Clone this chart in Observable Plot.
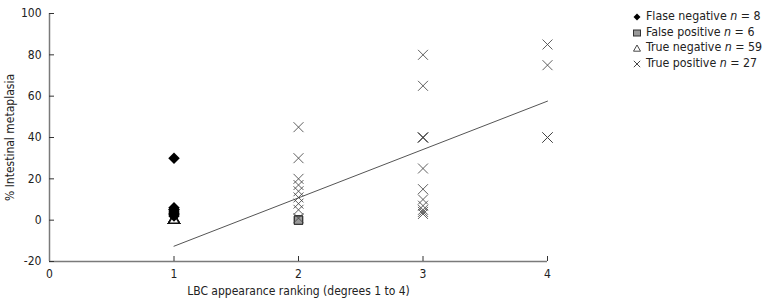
<!DOCTYPE html>
<html>
<head>
<meta charset="utf-8">
<script src="https://cdn.jsdelivr.net/npm/d3@7"></script>
<script src="https://cdn.jsdelivr.net/npm/@observablehq/plot@0.6"></script>
<style>
  body { margin: 0; background: #fff; }
  #wrap { position: relative; width: 768px; height: 299px; font-family: "DejaVu Sans Condensed", "DejaVu Sans", sans-serif; }
  #legend { position: absolute; left: 633px; top: 9px; font-size: 12.3px; color: #222; line-height: 15.7px; }
  #legend .row { display: flex; align-items: center; white-space: nowrap; }
  #legend svg { margin-right: 5px; }
</style>
</head>
<body>
<div id="wrap"></div>
<script>
// Data
const fnX = [1, 1, 1, 1, 1, 1, 1, 1];
const fnY = [30, 6, 5, 5, 4, 3, 3, 2];
const fpX = [2, 2, 2, 2, 2, 2];
const fpY = [0, 0, 0, 0, 0, 0];
const tnX = [1, 1, 1, 1, 1, 1, 1, 1, 1, 1];
const tnY = [0, 0, 0, 0, 0, 0, 0, 0, 0, 0];
const tpX = [2, 2, 2, 2, 2, 2, 2, 2, 2, 3, 3, 3, 3, 3, 3, 3, 3, 3, 3, 3, 3, 4, 4, 4, 4, 4];
const tpY = [45, 30, 20, 17, 14, 11, 8, 5, 1, 80, 65, 40, 40, 40, 25, 15, 10, 7, 4, 3, 5, 85, 75, 40, 40, 40];
const lineX = [1, 4];
const lineY = [-12.6, 57.6];
const xTicks = [0, 1, 2, 3, 4];
const yTicks = [-20, 0, 20, 40, 60, 80, 100];
const legendLabels = ["Flase negative", "False positive", "True negative", "True positive"];
const legendN = [8, 6, 59, 27];

const pts = (xs, ys) => xs.map((x, i) => ({x, y: ys[i]}));

const axisColor = "#7a7a7a";
const font = "'DejaVu Sans Condensed', 'DejaVu Sans', sans-serif";

const chart = Plot.plot({
  width: 768,
  height: 299,
  marginLeft: 49,
  marginRight: 221,
  marginTop: 13,
  marginBottom: 38,
  style: {fontFamily: font, fontSize: "11.5px", color: "#222", background: "white"},
  x: {domain: [0, 4], ticks: xTicks},
  y: {domain: [-20, 100], ticks: yTicks},
  marks: [
    Plot.ruleX([0], {stroke: axisColor, strokeWidth: 1.5}),
    Plot.ruleY([-20], {stroke: axisColor, strokeWidth: 1.5}),
    // y ticks (inward) and labels
    Plot.axisY({ticks: yTicks, tickSize: -5, tickFormat: () => "", stroke: "#333", label: null}),
    Plot.axisY({ticks: yTicks, tickSize: 0, tickPadding: 8, tickFormat: d => d, label: "% Intestinal metaplasia", labelAnchor: "center", labelArrow: "none", labelOffset: 44, fill: "#222", fontSize: 12}),
    // x ticks (inward) and labels
    Plot.axisX({ticks: xTicks.filter(d => d > 0), tickSize: -5, tickFormat: () => "", stroke: "#333", label: null}),
    Plot.axisX({ticks: xTicks, tickSize: 0, tickPadding: 8, tickFormat: d => d, label: "LBC appearance ranking (degrees 1 to 4)", labelAnchor: "center", labelArrow: "none", labelOffset: 33, fill: "#222", fontSize: 12}),
    Plot.line(pts(lineX, lineY), {x: "x", y: "y", stroke: "#555", strokeWidth: 1}),
    Plot.dot(pts(tnX, tnY), {x: "x", y: "y", symbol: "triangle2", r: 5, stroke: "#111", strokeWidth: 1.5, fill: "white"}),
    Plot.dot(pts(fpX, fpY), {x: "x", y: "y", symbol: "square", r: 4.6, fill: "#999", stroke: "#333", strokeWidth: 1}),
    Plot.dot(pts(tpX, tpY), {x: "x", y: "y", symbol: "times", r: 4.6, stroke: "#444", strokeWidth: 1, strokeOpacity: 0.85}),
    Plot.dot(pts(fnX, fnY), {x: "x", y: "y", symbol: "diamond2", r: 5.2, fill: "#000", stroke: "none"})
  ]
});

const wrap = document.getElementById("wrap");
wrap.appendChild(chart);
chart.style.position = "absolute";
chart.style.left = "0";
chart.style.top = "0";

// Legend
const legendSymbols = [
  '<path d="M4,0.5 L7.5,4 L4,7.5 L0.5,4 Z" fill="#000"/>',
  '<rect x="0.5" y="1" width="7" height="6" fill="#999" stroke="#333" stroke-width="1"/>',
  '<path d="M4,1 L7.5,7.2 L0.5,7.2 Z" fill="none" stroke="#333" stroke-width="0.9"/>',
  '<path d="M0.8,0.8 L7.2,7.2 M7.2,0.8 L0.8,7.2" stroke="#444" stroke-width="1"/>'
];
const legend = document.createElement("div");
legend.id = "legend";
legendLabels.forEach((lab, i) => {
  const row = document.createElement("div");
  row.className = "row";
  row.innerHTML = `<svg width="8" height="8" viewBox="0 0 8 8">${legendSymbols[i]}</svg><span>${lab} <i>n</i> = ${legendN[i]}</span>`;
  legend.appendChild(row);
});
wrap.appendChild(legend);
</script>
</body>
</html>
